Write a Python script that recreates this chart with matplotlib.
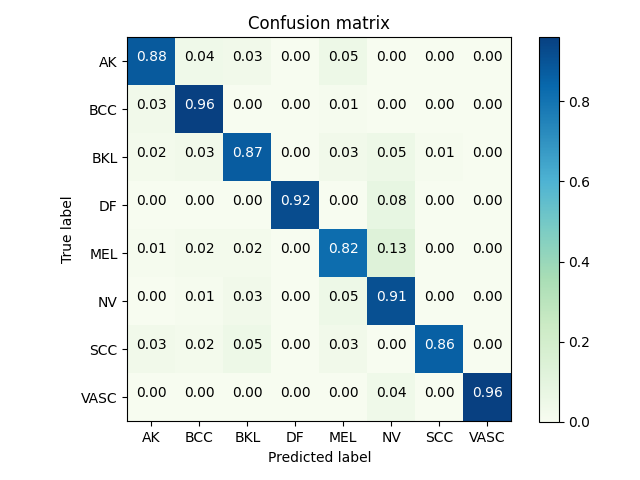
import numpy as np
import matplotlib
matplotlib.use("Agg")
import matplotlib.pyplot as plt

classes = ["AK", "BCC", "BKL", "DF", "MEL", "NV", "SCC", "VASC"]
cm = np.array([
    [0.88, 0.04, 0.03, 0.00, 0.05, 0.00, 0.00, 0.00],
    [0.03, 0.96, 0.00, 0.00, 0.01, 0.00, 0.00, 0.00],
    [0.02, 0.03, 0.87, 0.00, 0.03, 0.05, 0.01, 0.00],
    [0.00, 0.00, 0.00, 0.92, 0.00, 0.08, 0.00, 0.00],
    [0.01, 0.02, 0.02, 0.00, 0.82, 0.13, 0.00, 0.00],
    [0.00, 0.01, 0.03, 0.00, 0.05, 0.91, 0.00, 0.00],
    [0.03, 0.02, 0.05, 0.00, 0.03, 0.00, 0.86, 0.00],
    [0.00, 0.00, 0.00, 0.00, 0.00, 0.04, 0.00, 0.96],
])

fig = plt.figure(figsize=(6.4, 4.8), dpi=100)
ax = fig.add_axes([0.199, 0.121, 0.6, 0.802])
cax = fig.add_axes([0.842, 0.121, 0.031, 0.802])

im = ax.imshow(cm, interpolation='nearest', cmap=plt.cm.GnBu)
ax.set_title("Confusion matrix")
fig.colorbar(im, cax=cax)
ticks = np.arange(len(classes))
ax.set_xticks(ticks)
ax.set_xticklabels(classes)
ax.set_yticks(ticks)
ax.set_yticklabels(classes)

# tekst u celijama - bijeli na tamnim poljima
thresh = cm.max() / 2.
for i in range(cm.shape[0]):
    for j in range(cm.shape[1]):
        ax.text(j, i, format(cm[i, j], '.2f'),
                horizontalalignment="center",
                color="white" if cm[i, j] > thresh else "black")

ax.set_ylabel('True label')
ax.set_xlabel('Predicted label')
plt.savefig("out.png")
